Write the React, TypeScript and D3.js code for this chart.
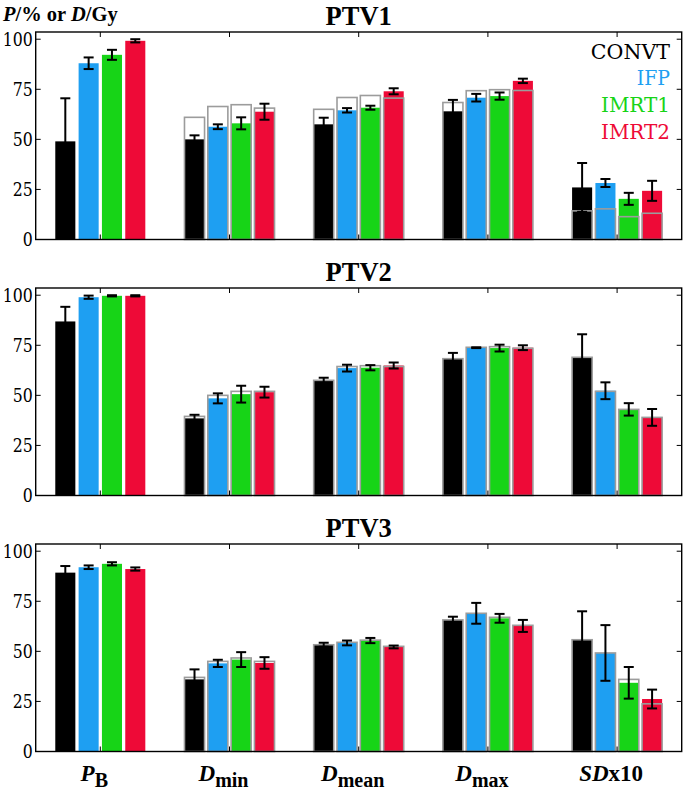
import React, { useEffect, useRef } from "react";
import * as d3 from "d3";

// categories along the x axis
const categories = ["PB", "Dmin", "Dmean", "Dmax", "SD"];
const series = ["CONVT", "IFP", "IMRT1", "IMRT2"];
const seriesColors = ["#000000", "#1e9ff2", "#17d417", "#ee0a37"];
const panelTitles = ["PTV1", "PTV2", "PTV3"];
const yTicks = [0, 25, 50, 75, 100];

// means, rows = series, cols = categories
const ptv1Mean = [
  [49, 50, 57.5, 64, 26],
  [88, 56.3, 64.5, 70.8, 28.2],
  [92.2, 58, 65.8, 71.6, 20.3],
  [99.2, 63.8, 74, 79.2, 24.3],
];
const ptv1Err = [
  [21.5, 2, 3.3, 5.7, 12.2],
  [2.9, 1.2, 1.1, 1.9, 2],
  [2.5, 3, 1, 1.8, 3],
  [0.8, 4, 1.5, 1.1, 5],
];
const ptv1Ref = [
  [null, 61, 65, 68.4, 14.3],
  [null, 66.4, 70.9, 74.3, 15.3],
  [null, 67.3, 71.9, 74.8, 11.4],
  [null, 65.6, 70.6, 74.4, 13.1],
];

const ptv2Mean = [
  [86.9, 38.5, 57.2, 68.2, 69],
  [99, 48.5, 63.6, 73.8, 52.3],
  [99.7, 50.6, 63.8, 73.6, 43],
  [99.7, 51.6, 64.9, 73.8, 39],
];
const ptv2Err = [
  [7.3, 1.8, 1.6, 3, 11.5],
  [0.8, 2.5, 1.7, 0.2, 4.2],
  [0.3, 4.2, 1.3, 1.7, 3.1],
  [0.3, 2.7, 1.5, 1.2, 4.2],
];
const ptv2Ref = [
  [null, 39.5, 57.5, 68.3, 69],
  [null, 50, 64.4, 74, 52],
  [null, 52, 64.8, 74.3, 43],
  [null, 52, 64.4, 73.5, 39],
];

const ptv3Mean = [
  [89.3, 36, 53.3, 65.7, 55.8],
  [92, 44, 54.2, 69, 49.2],
  [93.7, 45.9, 55.4, 66.5, 34.3],
  [91.1, 44.2, 52.2, 62.7, 26.2],
];
const ptv3Err = [
  [3.3, 5, 1, 1.6, 14.2],
  [0.9, 1.8, 1.2, 5.2, 13.9],
  [0.8, 3.7, 1.3, 2.2, 7.9],
  [0.8, 2.9, 0.7, 3, 4.7],
];
const ptv3Ref = [
  [null, 37, 53.3, 65.7, 55.8],
  [null, 45, 54.5, 69, 49.2],
  [null, 46.7, 55.6, 67, 36],
  [null, 45, 52.5, 63, 23.8],
];

const panels = [
  { mean: ptv1Mean, err: ptv1Err, ref: ptv1Ref },
  { mean: ptv2Mean, err: ptv2Err, ref: ptv2Ref },
  { mean: ptv3Mean, err: ptv3Err, ref: ptv3Ref },
];

// bold serif is Liberation; the regular face is missing, so DejaVu Serif squeezed to Times widths
const BOLD_FONT = "'Liberation Serif', 'Times New Roman', serif";
const REG_FONT = "'DejaVu Serif', serif";
// widths (em) of the legend words in Times, used for textLength
const legendEm = [3.444, 1.445, 3.0, 3.0];

const App = () => {
  const ref = useRef<SVGSVGElement | null>(null);

  useEffect(() => {
    const svg = d3.select(ref.current);
    svg.selectAll("*").remove();

    const left = 35.7;
    const right = 681.7;
    const panelTop = [32, 288, 544];
    const panelH = 207.5;

    const x = d3.scaleBand().domain(categories).range([left, right]).padding(0);
    const groupW = 93.3;
    const xs = d3
      .scaleBand()
      .domain(series)
      .range([0, groupW])
      .paddingInner(0.14)
      .paddingOuter(0.07);
    const groupOff = (x.bandwidth() - groupW) / 2;

    panels.forEach((p, pi) => {
      const top = panelTop[pi];
      const bottom = top + panelH;
      const y = d3.scaleLinear().domain([0, 103.6]).range([bottom, top]);
      const g = svg.append("g");

      // title
      g.append("text")
        .attr("x", (left + right) / 2)
        .attr("y", top - 7)
        .attr("text-anchor", "middle")
        .style("font-family", BOLD_FONT)
        .style("font-weight", "bold")
        .style("font-size", "26.5px")
        .text(panelTitles[pi]);

      // bars
      series.forEach((s, si) => {
        categories.forEach((c, ci) => {
          const bx = (x(c) as number) + groupOff + (xs(s) as number);
          const v = p.mean[si][ci];
          g.append("rect")
            .attr("x", bx)
            .attr("y", y(v))
            .attr("width", xs.bandwidth())
            .attr("height", y(0) - y(v))
            .attr("fill", seriesColors[si]);
        });
      });

      // reference outlines
      series.forEach((s, si) => {
        categories.forEach((c, ci) => {
          const r = p.ref[si][ci];
          if (r == null) return;
          const bx = (x(c) as number) + groupOff + (xs(s) as number);
          g.append("rect")
            .attr("x", bx)
            .attr("y", y(r))
            .attr("width", xs.bandwidth())
            .attr("height", y(0) - y(r))
            .attr("fill", "none")
            .attr("stroke", "#9c9c9c")
            .attr("stroke-width", 1.6);
        });
      });

      // error bars
      series.forEach((s, si) => {
        categories.forEach((c, ci) => {
          const cx = (x(c) as number) + groupOff + (xs(s) as number) + xs.bandwidth() / 2;
          const m = p.mean[si][ci];
          const e = p.err[si][ci];
          const lo = y(m - e);
          const hi = y(m + e);
          g.append("line")
            .attr("x1", cx).attr("x2", cx)
            .attr("y1", lo).attr("y2", hi)
            .attr("stroke", "#000").attr("stroke-width", 2);
          [lo, hi].forEach((yy) => {
            g.append("line")
              .attr("x1", cx - 5).attr("x2", cx + 5)
              .attr("y1", yy).attr("y2", yy)
              .attr("stroke", "#000").attr("stroke-width", 2);
          });
        });
      });

      // frame
      g.append("rect")
        .attr("x", left)
        .attr("y", top)
        .attr("width", right - left)
        .attr("height", bottom - top)
        .attr("fill", "none")
        .attr("stroke", "#000")
        .attr("stroke-width", 1.4);

      // ticks inside the box
      categories.forEach((c) => {
        const cx = (x(c) as number) + x.bandwidth() / 2;
        g.append("line").attr("x1", cx).attr("x2", cx).attr("y1", top).attr("y2", top + 5)
          .attr("stroke", "#000").attr("stroke-width", 1);
        g.append("line").attr("x1", cx).attr("x2", cx).attr("y1", bottom).attr("y2", bottom - 5)
          .attr("stroke", "#000").attr("stroke-width", 1);
      });
      yTicks.forEach((t) => {
        g.append("line").attr("x1", left).attr("x2", left + 5).attr("y1", y(t)).attr("y2", y(t))
          .attr("stroke", "#000").attr("stroke-width", 1);
        g.append("line").attr("x1", right).attr("x2", right - 5).attr("y1", y(t)).attr("y2", y(t))
          .attr("stroke", "#000").attr("stroke-width", 1);
        const label = String(t);
        g.append("text")
          .attr("x", left - 3)
          .attr("y", y(t))
          .attr("dy", "0.36em")
          .attr("text-anchor", "end")
          .attr("textLength", 10 * label.length)
          .attr("lengthAdjust", "spacingAndGlyphs")
          .style("font-family", REG_FONT)
          .style("font-size", "18.5px")
          .text(label);
      });
    });

    // legend
    series.forEach((s, si) => {
      svg.append("text")
        .attr("x", 670)
        .attr("y", 58.5 + si * 26.7)
        .attr("text-anchor", "end")
        .attr("textLength", legendEm[si] * 23)
        .attr("lengthAdjust", "spacingAndGlyphs")
        .style("font-family", REG_FONT)
        .style("font-size", "21px")
        .attr("fill", seriesColors[si])
        .text(s);
    });

    // y axis label
    const yl = svg.append("text")
      .attr("x", 3)
      .attr("y", 21)
      .style("font-family", BOLD_FONT)
      .style("font-weight", "bold")
      .style("font-size", "20.5px");
    yl.append("tspan").style("font-style", "italic").text("P");
    yl.append("tspan").text("/% or ");
    yl.append("tspan").style("font-style", "italic").text("D");
    yl.append("tspan").text("/Gy");

    // category labels under the last panel
    const labelParts: [string, string, boolean][][] = [
      [["P", "", true], ["B", "sub", false]],
      [["D", "", true], ["min", "sub", false]],
      [["D", "", true], ["mean", "sub", false]],
      [["D", "", true], ["max", "sub", false]],
      [["SD", "", true], ["x10", "", false]],
    ];
    categories.forEach((c, ci) => {
      const t = svg.append("text")
        .attr("x", (x(c) as number) + x.bandwidth() / 2 - 6)
        .attr("y", 781)
        .attr("text-anchor", "middle")
        .style("font-family", BOLD_FONT)
        .style("font-weight", "bold")
        .style("font-size", "23px");
      labelParts[ci].forEach(([txt, kind, ital]) => {
        const ts = t.append("tspan").text(txt);
        if (ital) ts.style("font-style", "italic");
        if (kind === "sub") ts.attr("dy", 6).style("font-size", "20px");
      });
    });
  }, []);

  return (
    <svg
      ref={ref}
      width={685}
      height={790}
      style={{ position: "absolute", left: 0, top: 0, background: "#fff" }}
    />
  );
};

export default App;
